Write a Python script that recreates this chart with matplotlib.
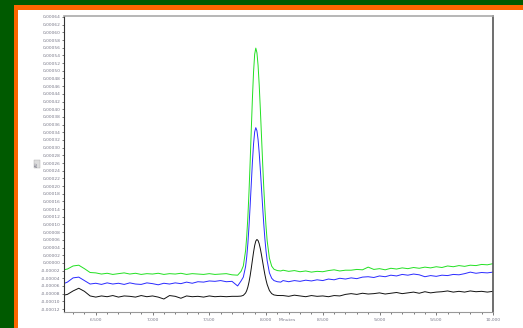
import matplotlib
matplotlib.use("Agg")
import matplotlib.pyplot as plt
import numpy as np
from matplotlib.patches import Rectangle
from matplotlib.ticker import FixedLocator, FuncFormatter, MultipleLocator

# retention time (minutes)
time_a = [6.20, 6.25, 6.30, 6.35, 6.40, 6.45, 6.50, 6.55, 6.60, 6.65, 6.70, 6.75, 6.80, 6.85, 6.90, 6.95,
          7.00, 7.05, 7.10, 7.15, 7.20, 7.25, 7.30, 7.35, 7.40, 7.45, 7.50, 7.55, 7.60, 7.65, 7.70, 7.75]
time_b = [7.78, 7.80, 7.82, 7.83, 7.84, 7.85, 7.86, 7.87, 7.88, 7.89, 7.90, 7.91, 7.92, 7.93, 7.94,
          7.95, 7.96, 7.97, 7.98, 7.99, 8.00, 8.01, 8.03, 8.05, 8.07, 8.10, 8.13]
time_c = [8.15, 8.20, 8.25, 8.30, 8.35, 8.40, 8.45, 8.50, 8.55, 8.60, 8.65, 8.70, 8.75, 8.80, 8.85, 8.90,
          8.95, 9.00, 9.05, 9.10, 9.15, 9.20, 9.25, 9.30, 9.35, 9.40, 9.45, 9.50, 9.55, 9.60, 9.65, 9.70,
          9.75, 9.80, 9.85, 9.90, 9.95, 10.00]

# absorbance in units of 1e-5 AU
green_a = [-1.9, -1.6, -0.8, -0.6, -1.5, -2.5, -2.6, -2.9, -2.7, -3.0, -2.8, -2.6, -2.9, -2.7, -3.0, -2.8,
           -2.9, -2.7, -3.0, -2.8, -2.9, -2.7, -3.0, -2.8, -2.9, -3.0, -2.8, -3.0, -2.9, -2.8, -3.1, -3.2]
green_b = [-2.2, -0.8, 3.2, 6.9, 11.9, 18.4, 26.1, 34.5, 42.7, 49.6, 54.3, 55.9, 54.7, 51.4, 46.3,
           40.0, 33.1, 26.2, 19.7, 14.1, 9.5, 5.8, 1.2, -0.85, -1.65, -2.0, -2.1]
green_c = [-1.9, -2.2, -2.0, -2.3, -2.1, -2.4, -2.2, -2.3, -2.0, -1.8, -2.1, -1.9, -1.9, -1.7, -1.8, -1.1,
           -1.7, -1.5, -1.8, -1.4, -1.6, -1.3, -1.5, -1.2, -1.4, -1.1, -1.3, -1.0, -1.2, -0.8, -1.0, -0.7,
           -0.9, -0.6, -0.7, -0.4, -0.5, -0.2]

blue_a = [-5.6, -5.0, -3.9, -3.7, -4.6, -5.5, -5.3, -5.6, -5.2, -5.5, -5.3, -5.6, -5.2, -5.5, -5.6, -5.2,
          -5.4, -5.7, -5.3, -5.5, -5.2, -5.4, -5.0, -5.3, -4.9, -5.0, -4.7, -4.8, -4.6, -4.9, -4.8, -6.0]
blue_b = [-4.7, -3.7, -0.95, 1.55, 5.0, 9.5, 14.8, 20.5, 26.2, 30.9, 34.1, 35.2, 34.4, 32.1, 28.6,
          24.2, 19.5, 14.7, 10.2, 6.3, 3.1, 0.6, -2.6, -4.0, -4.6, -4.9, -5.0]
blue_c = [-4.6, -4.9, -4.6, -4.8, -4.5, -4.7, -4.4, -4.6, -4.2, -4.4, -4.0, -4.2, -3.9, -4.1, -3.7, -3.6,
          -3.8, -3.4, -3.6, -3.2, -3.4, -3.0, -3.2, -2.9, -3.1, -3.6, -3.3, -3.5, -3.2, -3.3, -3.0, -3.1,
          -2.8, -2.4, -2.7, -2.5, -2.6, -2.4]

black_a = [-8.5, -8.2, -7.3, -6.6, -7.4, -8.6, -8.9, -8.6, -8.8, -8.5, -8.9, -8.6, -8.7, -8.9, -8.5, -8.8,
           -8.6, -8.9, -9.4, -8.5, -8.7, -9.2, -8.6, -8.8, -8.7, -8.9, -8.6, -8.8, -8.7, -8.8, -8.7, -8.7]
black_b = [-8.64, -8.45, -7.83, -7.21, -6.29, -5.01, -3.37, -1.42, 0.70, 2.77, 4.52, 5.69, 6.1, 5.81, 4.98,
           3.69, 2.10, 0.36, -1.39, -3.03, -4.44, -5.61, -7.20, -8.0, -8.34, -8.48, -8.5]
black_c = [-8.5, -8.7, -8.4, -8.6, -8.8, -8.5, -8.7, -8.6, -8.8, -8.5, -8.6, -8.2, -8.0, -8.2, -7.9, -8.1,
           -8.0, -7.8, -8.1, -7.9, -7.7, -8.0, -7.8, -7.6, -7.9, -7.5, -7.8, -7.6, -7.5, -7.3, -7.6, -7.4,
           -7.6, -7.3, -7.5, -7.4, -7.6, -7.4]

y_ticks = [0.00064 - 0.00002 * i for i in range(39)]
x_ticks = [6.5, 7.0, 7.5, 8.0, 8.5, 9.0, 9.5, 10.0]

W, H = 523, 328
fig = plt.figure(figsize=(W / 100, H / 100), dpi=100)
fig.patch.set_facecolor("#005a00")
fig.patches.append(Rectangle((13.7 / W, 0), 1, (H - 5) / H, transform=fig.transFigure,
                             facecolor="#ff6600", edgecolor="none", zorder=-20))
fig.patches.append(Rectangle((17.7 / W, 0), 1, (H - 9.7) / H, transform=fig.transFigure,
                             facecolor="white", edgecolor="none", zorder=-10))

ax = fig.add_axes([64 / W, (H - 312) / H, (493 - 64) / W, (312 - 16) / H])
t = np.concatenate([time_a, time_b, time_c])
scale = 1e-5
series = [(green_a + green_b + green_c, "#22e022"),
          (blue_a + blue_b + blue_c, "#2a2aff"),
          (black_a + black_b + black_c, "#111111")]
for vals, col in series:
    ax.plot(t, np.array(vals) * scale, color=col, lw=0.7)

ax.set_xlim(6.22, 10.0)
ax.set_ylim(-0.0001278, 0.0006426)

def comma(fmt):
    return FuncFormatter(lambda v, p: (fmt % v).replace(".", ",").replace("-0,00000", "0,00000"))

ax.yaxis.set_major_locator(FixedLocator(y_ticks))
ax.yaxis.set_major_formatter(comma("%.5f"))
ax.xaxis.set_major_locator(FixedLocator(x_ticks))
ax.xaxis.set_major_formatter(comma("%.3f"))
ax.xaxis.set_minor_locator(MultipleLocator(0.1))
ax.tick_params(axis="both", which="both", labelsize=3.2, labelcolor="#7a7a8a",
               color="#444444", width=0.5, direction="out")
ax.tick_params(axis="y", length=1.5, pad=1)
ax.tick_params(axis="x", which="major", length=2.5, pad=1.5)
ax.tick_params(axis="x", which="minor", length=1.5)

ax.spines["top"].set_color("#aaaaaa")
ax.spines["top"].set_linewidth(1.2)
ax.spines["right"].set_color("#555555")
ax.spines["right"].set_linewidth(1.2)
ax.spines["left"].set_color("#333333")
ax.spines["left"].set_linewidth(0.8)
ax.spines["bottom"].set_color("#999999")
ax.spines["bottom"].set_linewidth(0.8)

fig.text(287 / W, (H - 320) / H, "Minutes", fontsize=3.2, color="#7a7a8a", ha="center", va="center")
fig.text(37 / W, (H - 164) / H, "AU", fontsize=2.8, color="#7a7a8a", ha="center", va="center",
         rotation=90, bbox=dict(facecolor="#dddddd", edgecolor="#aaaaaa", pad=0.6, lw=0.3))

fig.savefig("out.png", dpi=100, facecolor=fig.get_facecolor())
